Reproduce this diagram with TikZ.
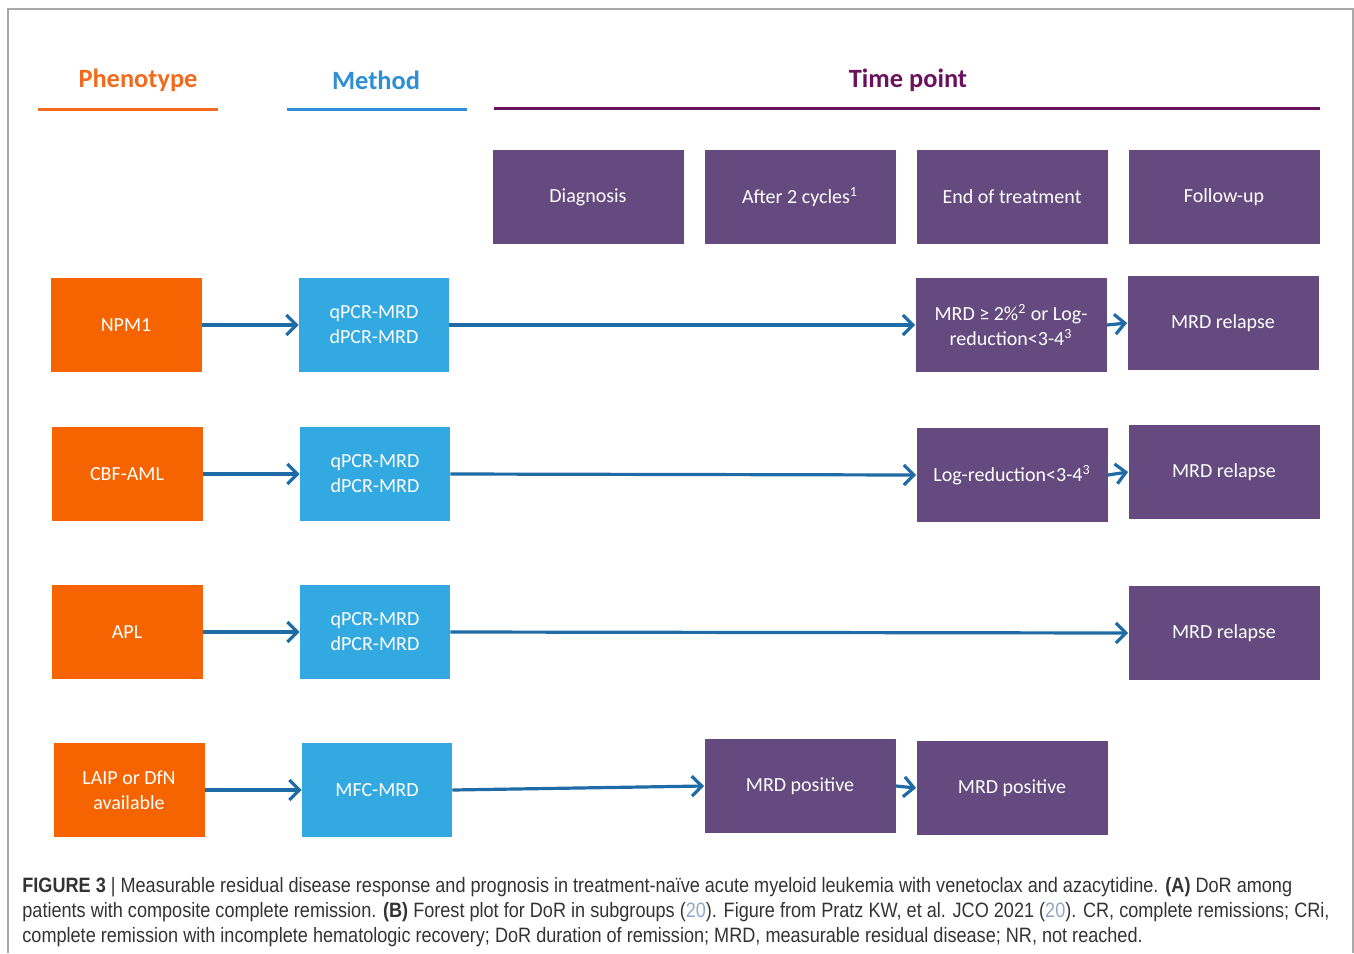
\documentclass[tikz,border=0pt]{standalone}
\usepackage{fontspec}
\setmainfont{Carlito}
\newfontfamily\capfont[FakeStretch=0.87]{Liberation Sans}
\usetikzlibrary{arrows.meta, positioning}
\definecolor{corange}{HTML}{F56400}
\definecolor{cblue}{HTML}{33A9E1}
\definecolor{cpurple}{HTML}{644A7E}
\definecolor{carrow}{HTML}{1F6BA6}
\definecolor{chorange}{HTML}{F26B1D}
\definecolor{chblue}{HTML}{2E8FD6}
\definecolor{chpurple}{HTML}{6B125E}
\definecolor{cframe}{HTML}{A8A8A8}
\definecolor{ccap}{HTML}{333333}
\definecolor{cref}{HTML}{8FA8C8}
\tikzset{
  every picture/.style={font=\fontsize{10}{12.5}\selectfont},
  box/.style={fill=#1, text=white, align=center, inner sep=0pt, minimum height=47pt},
  pheno/.style={box=corange, minimum width=75.5pt},
  method/.style={box=cblue, minimum width=75pt},
  tpoint/.style={box=cpurple, minimum width=95.5pt},
  arrow/.style={-{Straight Barb[length=5pt, width=10pt]}, draw=carrow, line width=1.6pt},
  head/.style={font=\fontsize{13.2}{16}\selectfont\bfseries},
  rule/.style={draw=#1, line width=1.5pt},
}

\begin{document}
\begin{tikzpicture}[x=0.5pt, y=-0.5pt]
  \useasboundingbox (0,0) rectangle (1354,953);
  \draw[cframe, line width=0.6pt] (8,953) -- (8,9) -- (1353,9) -- (1353,953);

  % column headings
  \node[head, text=chorange] (hpheno) at (138,80) {Phenotype};
  \node[head, text=chblue] (hmethod) at (376,80) {Method};
  \node[head, text=chpurple] (htime) at (908,80) {Time point};
  \draw[rule=chorange] (38,109) -- (218,109);
  \draw[rule=chblue] (287,109) -- (467,109);
  \draw[rule=chpurple] (494,108) -- (1320,108);

  % time points
  \node[tpoint] (diag) at (588,197) {Diagnosis};
  \node[tpoint] (cycles) at (800,197) {After 2 cycles\textsuperscript{1}};
  \node[tpoint] (eot) at (1012,197) {End of treatment};
  \node[tpoint] (fup) at (1224,197) {Follow-up};

  % NPM1
  \node[pheno] (npm) at (126,325) {NPM1};
  \node[method] (pcra) at (374,325) {qPCR-MRD\\dPCR-MRD};
  \node[tpoint] (mrdlog) at (1011,325) {MRD ≥ 2\%\textsuperscript{2} or Log-\\reduction<3-4\textsuperscript{3}};
  \node[tpoint] (rela) at (1223,323) {MRD relapse};

  % CBF-AML
  \node[pheno] (cbf) at (127,474) {CBF-AML};
  \node[method] (pcrb) at (375,474) {qPCR-MRD\\dPCR-MRD};
  \node[tpoint] (logred) at (1012,475) {Log-reduction<3-4\textsuperscript{3}};
  \node[tpoint] (relb) at (1224,472) {MRD relapse};

  % APL
  \node[pheno] (apl) at (127,632) {APL};
  \node[method] (pcrc) at (375,632) {qPCR-MRD\\dPCR-MRD};
  \node[tpoint] (relc) at (1224,633) {MRD relapse};

  % LAIP / DfN
  \node[pheno] (laip) at (129,790) {LAIP or DfN\\available};
  \node[method] (mfc) at (377,790) {MFC-MRD};
  \node[tpoint] (posa) at (800,786) {MRD positive};
  \node[tpoint] (posb) at (1012,788) {MRD positive};

  \foreach \a/\b in {npm/pcra, pcra/mrdlog, mrdlog/rela,
                     cbf/pcrb, pcrb/logred, logred/relb,
                     apl/pcrc, pcrc/relc,
                     laip/mfc, mfc/posa, posa/posb}
    \draw[arrow] (\a.east) -- (\b.west);

  % caption
  \node[anchor=north west, align=left, inner sep=0pt, text=ccap,
        font=\capfont\fontsize{10.4}{12.5}\selectfont] (caption) at (22,877)
  {\textbf{FIGURE 3} \textbar{} Measurable residual disease response and prognosis in treatment-naïve acute myeloid leukemia with venetoclax and azacytidine. \textbf{(A)} DoR among\\
   patients with composite complete remission. \textbf{(B)} Forest plot for DoR in subgroups (\textcolor{cref}{20}). Figure from Pratz KW, et al. JCO 2021 (\textcolor{cref}{20}). CR, complete remissions; CRi,\\
   complete remission with incomplete hematologic recovery; DoR duration of remission; MRD, measurable residual disease; NR, not reached.};
\end{tikzpicture}
\end{document}
